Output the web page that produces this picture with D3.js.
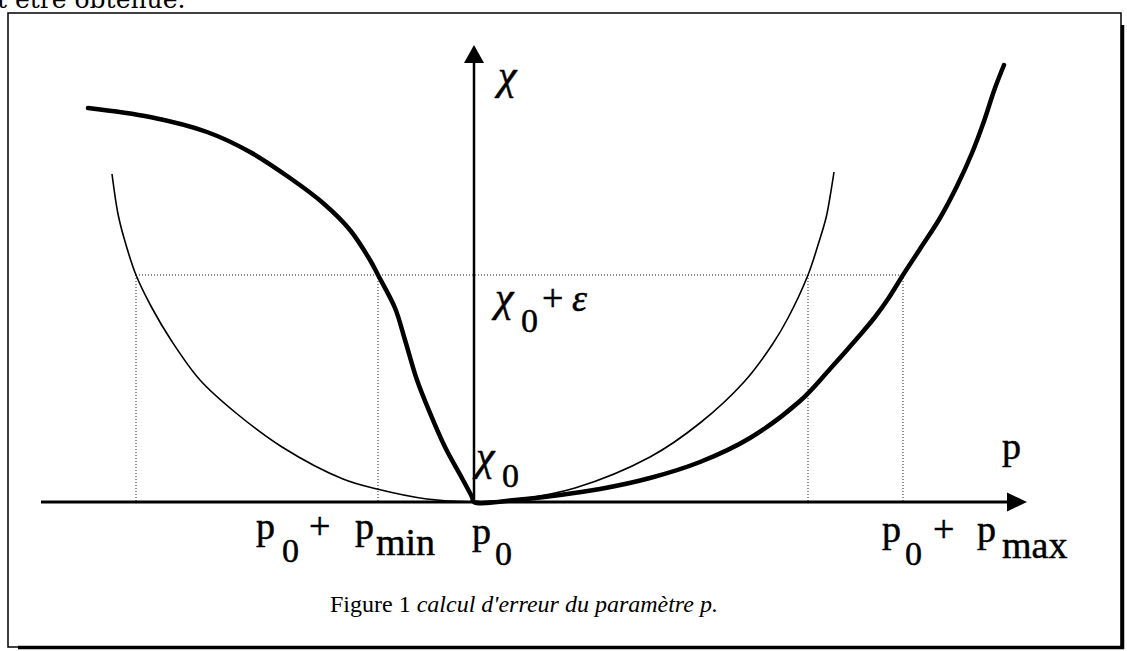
<!DOCTYPE html>
<html>
<head>
<meta charset="utf-8">
<script src="https://cdn.jsdelivr.net/npm/d3@7/dist/d3.min.js"></script>
<style>
  html, body { margin: 0; padding: 0; background: #fff; }
  svg { display: block; }
  text, tspan { font-family: "Liberation Serif", "Times New Roman", serif; fill: #000; }
</style>
</head>
<body>
<svg id="chart" width="1127" height="651"></svg>
<script>
// Error estimate of parameter p: chi(p) around its minimum chi0 at p0.
// Units: p measured from p0, chi measured from chi0 (arbitrary units).

// Thin curve: near-symmetric chi(p)
const thinP   = [-3.62, -3.56, -3.50, -3.38, -3.22, -3.03, -2.74, -2.38, -1.92, -1.31, -0.97, -0.47, 0,
                  0.46, 1.01, 1.76, 2.26, 2.70, 2.98, 3.14, 3.34, 3.44, 3.52, 3.56, 3.60];
const thinChi = [3.28, 2.88, 2.64, 2.27, 1.94, 1.62, 1.22, 0.89, 0.55, 0.23, 0.13, 0.03, 0,
                 0.03, 0.14, 0.45, 0.79, 1.20, 1.57, 1.84, 2.27, 2.57, 2.84, 3.05, 3.30];

// Thick curve: asymmetric chi(p)
const thickP   = [-3.86, -3.24, -2.67, -2.24, -1.84, -1.51, -1.24, -1.04, -0.96, -0.79, -0.69, -0.57,
                  -0.44, -0.29, -0.11, -0.02, 0,
                  0.46, 0.86, 1.26, 1.76, 2.26, 2.76, 3.26, 3.56, 3.86, 4.01, 4.15, 4.29,
                  4.46, 4.66, 4.83, 4.98, 5.09, 5.21, 5.30];
const thickChi = [3.94, 3.85, 3.70, 3.50, 3.24, 2.99, 2.72, 2.42, 2.27, 1.94, 1.62, 1.22,
                  0.89, 0.55, 0.22, 0.05, 0,
                  0.025, 0.07, 0.13, 0.24, 0.40, 0.64, 1.01, 1.33, 1.67, 1.85, 2.045, 2.27,
                  2.53, 2.84, 3.16, 3.49, 3.78, 4.14, 4.37];

// Threshold chi0 + epsilon and the p values where each curve reaches it
const epsilon = 2.27;
const crossP = [-3.38, -0.96, 3.34, 4.29];   // thin left, p_min, thin right, p_max
const pMin = -0.96, pMax = 4.29;

// Axis extents
const pAxis = [-4.33, 5.53];
const chiAxisTop = 4.57;

const SERIF = "'Liberation Serif', 'Times New Roman', serif";
const svg = d3.select("#chart");
const x = d3.scaleLinear().domain([0, 1]).range([474, 574]);
const y = d3.scaleLinear().domain([0, 1]).range([502, 402]);

// Last line of running text above the figure (cut by the page edge)
svg.append("text").attr("x", -3).attr("y", 8)
  .style("font-size", "25px").style("font-family", "'DejaVu Serif', serif")
  .text("t être obtenue.");

// Frame with drop shadow
svg.append("rect").attr("x", 8).attr("y", 13).attr("width", 1113).attr("height", 634)
  .attr("fill", "none").attr("stroke", "#000").attr("stroke-width", 1.5);
svg.append("line").attr("x1", 1122.5).attr("x2", 1122.5).attr("y1", 25).attr("y2", 649)
  .attr("stroke", "#000").attr("stroke-width", 3.5);
svg.append("line").attr("x1", 18).attr("x2", 1124).attr("y1", 647.5).attr("y2", 647.5)
  .attr("stroke", "#000").attr("stroke-width", 3.5);

// Dotted guides at chi0 + epsilon
const dotted = svg.append("g").attr("stroke", "#222").attr("stroke-width", 1)
  .attr("stroke-dasharray", "1,2").attr("fill", "none");
dotted.append("line")
  .attr("x1", x(d3.min(crossP))).attr("x2", x(d3.max(crossP)))
  .attr("y1", y(epsilon)).attr("y2", y(epsilon));
dotted.selectAll("line.v").data(crossP).join("line").attr("class", "v")
  .attr("x1", d => x(d)).attr("x2", d => x(d))
  .attr("y1", y(epsilon)).attr("y2", y(0));

// Axes
svg.append("line").attr("x1", x(pAxis[0])).attr("x2", x(pAxis[1]) - 12)
  .attr("y1", y(0)).attr("y2", y(0)).attr("stroke", "#000").attr("stroke-width", 3);
svg.append("path")
  .attr("d", `M${x(pAxis[1])},${y(0)} L${x(pAxis[1]) - 20},${y(0) - 9.5} L${x(pAxis[1]) - 20},${y(0) + 9.5}Z`)
  .attr("fill", "#000");
svg.append("line").attr("x1", x(0)).attr("x2", x(0))
  .attr("y1", y(0)).attr("y2", y(chiAxisTop) + 12).attr("stroke", "#000").attr("stroke-width", 2.5);
svg.append("path")
  .attr("d", `M${x(0)},${y(chiAxisTop)} L${x(0) - 10},${y(chiAxisTop) + 18} L${x(0) + 10},${y(chiAxisTop) + 18}Z`)
  .attr("fill", "#000");

// Curves
const line = d3.line().x(d => x(d[0])).y(d => y(d[1])).curve(d3.curveCatmullRom.alpha(0.5));
svg.append("path").attr("d", line(d3.zip(thinP, thinChi)))
  .attr("fill", "none").attr("stroke", "#000").attr("stroke-width", 1.6);
svg.append("path").attr("d", line(d3.zip(thickP, thickChi)))
  .attr("fill", "none").attr("stroke", "#000").attr("stroke-width", 4.5)
  .attr("stroke-linecap", "round").attr("stroke-linejoin", "round");

// Labels (serif, slightly heavy)
const big = 38, sub = 34, chiSize = 42;
function label(parts) {
  const t = svg.append("text")
    .attr("font-family", SERIF).style("font-family", SERIF)
    .attr("stroke", "#000").attr("stroke-width", 0.5);
  parts.forEach(([s, px, py, fs, italic]) => {
    t.append("tspan").attr("x", px).attr("y", py)
      .attr("font-family", SERIF).style("font-family", SERIF)
      .style("font-size", fs + "px")
      .style("font-style", italic ? "italic" : "normal").text(s);
  });
  return t;
}
// chi axis label
label([["χ", x(0) + 24, y(chiAxisTop) + 44, chiSize, true]]);
// chi0 + epsilon
label([["χ", x(0) + 21, y(epsilon) + 36, chiSize, true], ["0", x(0) + 47, y(epsilon) + 57, sub],
       ["+", x(0) + 68, y(epsilon) + 36, big], ["ε", x(0) + 98, y(epsilon) + 36, big, true]]);
// chi0 at the minimum
label([["χ", x(0) + 2, y(0) - 32, chiSize, true], ["0", x(0) + 28, y(0) - 15, sub]]);
// p axis label
label([["p", x(pAxis[1]) - 25, y(0) - 43, big]]);
// p0 + pmin
label([["p", x(pMin) - 122, y(0) + 37, big], ["0", x(pMin) - 96, y(0) + 60, sub],
       ["+", x(pMin) - 69, y(0) + 37, big], ["p", x(pMin) - 23, y(0) + 37, big],
       ["min", x(pMin) - 2, y(0) + 53, big]]);
// p0
label([["p", x(0) - 2, y(0) + 42, big], ["0", x(0) + 21, y(0) + 63, sub]]);
// p0 + pmax
label([["p", x(pMax) - 21, y(0) + 40, big], ["0", x(pMax) + 2, y(0) + 63, sub],
       ["+", x(pMax) + 30, y(0) + 40, big], ["p", x(pMax) + 74, y(0) + 40, big],
       ["max", x(pMax) + 99, y(0) + 56, big]]);

// Caption
const cap = svg.append("text").attr("x", 330).attr("y", 612)
  .style("font-family", SERIF).style("font-size", "24px");
cap.append("tspan").text("Figure 1 ");
cap.append("tspan").style("font-style", "italic").text("calcul d'erreur du paramètre p.");
</script>
</body>
</html>
